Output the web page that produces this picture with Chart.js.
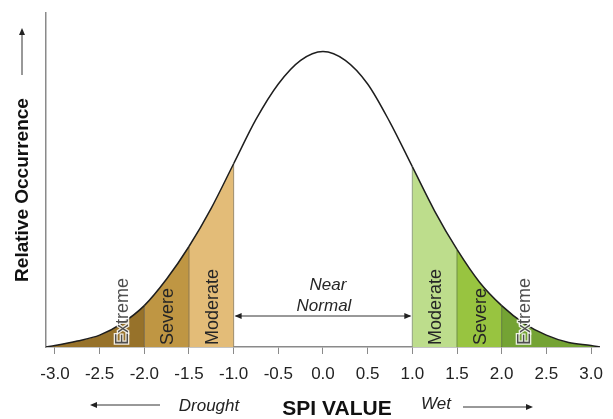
<!DOCTYPE html>
<html>
<head>
<meta charset="utf-8">
<script src="https://cdn.jsdelivr.net/npm/chart.js@4.4.0/dist/chart.umd.min.js"></script>
<style>
  body { margin: 0; background: #fff; }
  canvas { display: block; }
</style>
</head>
<body>
<canvas id="spiChart" width="613" height="419"></canvas>
<script>
// SPI values along the x axis
var spiValues = [-3.1, -3.0, -2.75, -2.5, -2.25, -2.0, -1.75, -1.5, -1.25, -1.0, -0.75, -0.5, -0.25, 0,
                 0.25, 0.5, 0.75, 1.0, 1.25, 1.5, 1.75, 2.0, 2.25, 2.5, 2.75, 3.0, 3.1];
// relative occurrence (peak = 100)
var occurrence = [0, 0.5, 2, 4, 8, 14, 23, 34, 47, 62, 77, 89, 97, 100,
                  97, 89, 76, 61, 46, 33, 22, 14, 8, 4, 1.5, 0.5, 0];
var tickValues = [-3.0, -2.5, -2.0, -1.5, -1.0, -0.5, 0.0, 0.5, 1.0, 1.5, 2.0, 2.5, 3.0];

// drought / wet classes
var classBreaks = [-2.0, -1.5, -1.0, 1.0, 1.5, 2.0];
var classNames = ['Extreme', 'Severe', 'Moderate', '', 'Moderate', 'Severe', 'Extreme'];
var classColors = ['#97722a', '#bf9643', '#e3bc78', 'rgba(255,255,255,0)', '#bddd8c', '#98c440', '#74a334'];
var dividerColors = ['#75633e', '#8c7548', '#9c8b68', '#8fa07c', '#6e8e44', '#5a7a32'];

var FONT = '"Liberation Sans", Arial, sans-serif';

function classIndex(x) {
  var k = 0;
  for (var i = 0; i < classBreaks.length; i++) {
    if (x > classBreaks[i]) k++;
  }
  return k;
}

var curve = spiValues.map(function (x, i) { return { x: x, y: occurrence[i] }; });

var datasets = [{
  data: curve,
  borderColor: '#1e1e1e',
  borderWidth: 1.5,
  pointRadius: 0,
  cubicInterpolationMode: 'monotone',
  fill: 'origin',
  backgroundColor: 'rgba(255,255,255,0)',
  segment: {
    backgroundColor: function (ctx) {
      return classColors[classIndex((ctx.p0.parsed.x + ctx.p1.parsed.x) / 2)];
    }
  },
  order: 0
}];

// vertical dividers between the classes
classBreaks.forEach(function (b, k) {
  var top = occurrence[spiValues.indexOf(b)];
  datasets.push({
    data: [{ x: b, y: 0 }, { x: b, y: top }],
    borderColor: dividerColors[k],
    borderWidth: 1,
    pointRadius: 0,
    fill: false,
    order: 1
  });
});

function arrowHead(ctx, x, y, dir) {
  // dir: 'left' | 'right' | 'up'
  ctx.beginPath();
  if (dir === 'left') { ctx.moveTo(x, y); ctx.lineTo(x + 7, y - 3); ctx.lineTo(x + 7, y + 3); }
  if (dir === 'right') { ctx.moveTo(x, y); ctx.lineTo(x - 7, y - 3); ctx.lineTo(x - 7, y + 3); }
  if (dir === 'up') { ctx.moveTo(x, y); ctx.lineTo(x - 3, y + 7); ctx.lineTo(x + 3, y + 7); }
  ctx.closePath();
  ctx.fill();
}

function line(ctx, x1, y1, x2, y2) {
  ctx.beginPath();
  ctx.moveTo(x1, y1);
  ctx.lineTo(x2, y2);
  ctx.stroke();
}

var annotate = {
  id: 'annotate',
  afterDatasetsDraw: function (chart) {
    var ctx = chart.ctx;
    var xs = chart.scales.x, ys = chart.scales.y;
    var base = ys.getPixelForValue(0);
    ctx.save();

    // class labels, rotated, centred in each band
    var bandEdges = [-2.5].concat(classBreaks).concat([2.5]);
    ctx.font = '18px ' + FONT;
    ctx.textBaseline = 'middle';
    ctx.textAlign = 'left';
    classNames.forEach(function (name, k) {
      if (!name) return;
      var cx = xs.getPixelForValue((bandEdges[k] + bandEdges[k + 1]) / 2) + 1.5;
      ctx.save();
      ctx.translate(cx, base - 2);
      ctx.rotate(-Math.PI / 2);
      if (name === 'Extreme') {
        ctx.lineWidth = 2.5;
        ctx.strokeStyle = 'rgba(255,255,255,0.85)';
        ctx.strokeText(name, 0, 0);
        ctx.fillStyle = '#4e4e4e';
      } else {
        ctx.fillStyle = '#262626';
      }
      ctx.fillText(name, 0, 0);
      ctx.restore();
    });

    // Near Normal
    var xl = xs.getPixelForValue(-1.0), xr = xs.getPixelForValue(1.0);
    var mid = xs.getPixelForValue(0);
    ctx.fillStyle = '#262626';
    ctx.textAlign = 'center';
    ctx.font = 'italic 17px ' + FONT;
    ctx.fillText('Near', mid + 5, base - 62);
    ctx.fillText('Normal', mid + 1, base - 41);
    ctx.strokeStyle = '#333';
    ctx.lineWidth = 1;
    ctx.fillStyle = '#222';
    line(ctx, xl + 2, base - 31, xr - 2, base - 31);
    arrowHead(ctx, xl + 1, base - 31, 'left');
    arrowHead(ctx, xr - 1, base - 31, 'right');

    // y title with arrow
    ctx.save();
    ctx.translate(23, 190);
    ctx.rotate(-Math.PI / 2);
    ctx.font = 'bold 19px ' + FONT;
    ctx.fillStyle = '#111';
    ctx.textAlign = 'center';
    ctx.fillText('Relative Occurrence', 0, 0);
    ctx.restore();
    line(ctx, 22, 75, 22, 32);
    arrowHead(ctx, 22, 28, 'up');

    // bottom titles
    ctx.fillStyle = '#111';
    ctx.font = 'bold 21px ' + FONT;
    ctx.fillText('SPI VALUE', 337, 409);
    ctx.font = 'italic 17px ' + FONT;
    ctx.fillStyle = '#222';
    ctx.fillText('Drought', 209, 406);
    ctx.fillText('Wet', 436, 404);
    line(ctx, 96, 405, 160, 405);
    arrowHead(ctx, 90, 405, 'left');
    line(ctx, 463, 407, 527, 407);
    arrowHead(ctx, 533, 407, 'right');

    ctx.restore();
  }
};

new Chart(document.getElementById('spiChart'), {
  type: 'line',
  data: { datasets: datasets },
  options: {
    responsive: false,
    animation: false,
    layout: { padding: { top: 13, right: 10, left: 0, bottom: 0 } },
    plugins: {
      legend: { display: false },
      tooltip: { enabled: false },
      filler: { drawTime: 'beforeDatasetsDraw' }
    },
    scales: {
      x: {
        type: 'linear',
        min: -3.1,
        max: 3.1,
        afterBuildTicks: function (scale) {
          scale.ticks = tickValues.map(function (v) { return { value: v }; });
        },
        afterFit: function (scale) { scale.height = 72; },
        ticks: {
          autoSkip: false,
          maxRotation: 0,
          padding: 10,
          color: '#222',
          font: { size: 17, family: FONT },
          callback: function (v) { return Number(v).toFixed(1); }
        },
        grid: { drawOnChartArea: false, drawTicks: true, tickLength: 7, color: '#8a8a8a' },
        border: { color: '#8a8a8a', width: 1.5 }
      },
      y: {
        min: 0,
        max: 113,
        afterFit: function (scale) { scale.width = 46; },
        ticks: { display: false },
        grid: { display: false, drawTicks: false },
        border: { color: '#8a8a8a', width: 1.5 }
      }
    }
  },
  plugins: [annotate]
});
</script>
</body>
</html>
